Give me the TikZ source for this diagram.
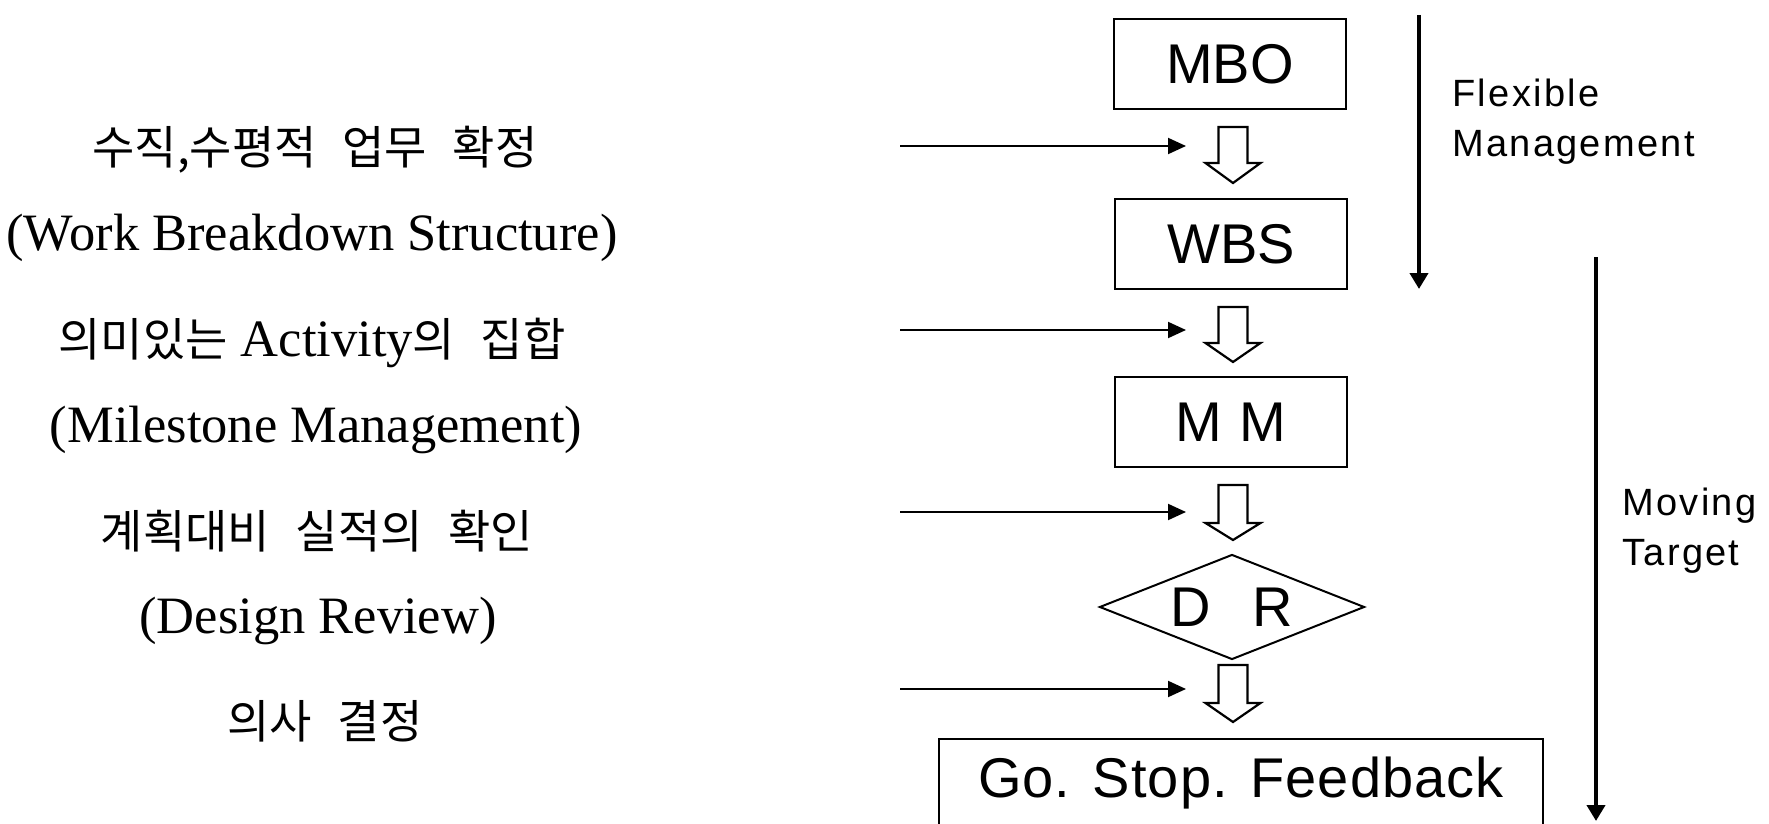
\documentclass[tikz,border=0pt]{standalone}
\usepackage{fontspec}
\setmainfont{Liberation Serif}
\newfontfamily\kr{Noto Sans CJK KR}[WordSpace=2.5]
\newfontfamily\boxfont{Liberation Sans}
\newfontfamily\gofont{Liberation Sans}[LetterSpace=2]
\newfontfamily\notefont{Liberation Sans}[LetterSpace=6]
\usetikzlibrary{arrows.meta,shapes.geometric}

% Korean text at the size of the description lines
\newcommand\krs{\kr\fontsize{23}{26}\selectfont}

% downward hollow block arrow: centre x, top, head base, tip
\newcommand\hollowdown[4]{%
  \draw[hollow] (#1-14.5,#2) -- (#1+14.5,#2) -- (#1+14.5,#3) -- (#1+27.5,#3)
    -- (#1,#4) -- (#1-27.5,#3) -- (#1-14.5,#3) -- cycle;}

\begin{document}
\begin{tikzpicture}[x=0.5pt,y=-0.5pt,
  box/.style={draw, line width=1.2pt, minimum width=116pt, minimum height=45pt,
    inner sep=0pt, font=\boxfont\fontsize{28}{30}\selectfont},
  decision/.style={draw, diamond, aspect=2.52, line width=1pt, minimum width=132.5pt,
    minimum height=52.5pt, inner sep=0pt, font=\boxfont\fontsize{28}{30}\selectfont},
  gobox/.style={draw, line width=1.2pt, minimum width=302pt, minimum height=44pt,
    inner sep=0pt, font=\gofont\fontsize{28}{30}\selectfont},
  krline/.style={inner sep=0pt, anchor=center, font=\krs},
  mixline/.style={inner sep=0pt, anchor=center, font=\fontsize{26.25}{28}\selectfont},
  enline/.style={inner sep=0pt, anchor=base, font=\fontsize{26.25}{28}\selectfont},
  note/.style={inner sep=0pt, anchor=base west, font=\notefont\fontsize{19}{21}\selectfont},
  feed/.style={draw, line width=1pt, -{Triangle[length=9pt,width=8pt]}},
  span/.style={draw, line width=2pt, -{Triangle[length=8pt,width=9pt]}},
  hollow/.style={draw, line width=1.1pt, fill=white, line join=miter}]

\useasboundingbox (0,0) rectangle (1769,824);

% left column: descriptions of each stage
\node[krline] (t1) at (315,150) {수직,수평적 업무 확정};
\node[enline] (t2) at (312,250) {(Work Breakdown Structure)};
\node[mixline] (t3) at (312,343) {{\krs 의미있는} Activity{\krs 의 집합}};
\node[enline] (t4) at (316,442) {(Milestone Management)};
\node[krline] (t5) at (317,531) {계획대비 실적의 확인};
\node[enline] (t6) at (318,633) {(Design Review)};
\node[krline] (t7) at (325,721) {의사 결정};

% flow of stages
\node[box] (mbo) at (1230,64) {MBO};
\node[box] (wbs) at (1231,244) {WBS};
\node[box] (mm) at (1231,422) {M\hspace{9pt}M};
\node[decision] (dr) at (1232,607) {D\hspace{21pt}R};
\node[gobox] (go) at (1241,783) {Go. Stop. Feedback};

\hollowdown{1233}{127}{163}{183}
\hollowdown{1233}{307}{343}{362}
\hollowdown{1233}{485}{523}{540}
\hollowdown{1233}{665}{703}{722}

% feeding arrows from the descriptions
\foreach \i/\y in {1/146,2/330,3/512,4/689}{
  \coordinate (s\i) at (900,\y);
  \coordinate (e\i) at (1186,\y);
  \draw[feed] (s\i) -- (e\i);
}

% span arrows on the right
\coordinate (f0) at (1419,15);
\coordinate (f1) at (1419,289);
\draw[span] (f0) -- (f1);
\coordinate (m0) at (1596,257);
\coordinate (m1) at (1596,821);
\draw[span] (m0) -- (m1);

\node[note] (flex) at (1452,107) {Flexible};
\node[note] (mgmt) at (1452,157) {Management};
\node[note] (mov) at (1622,515) {Moving};
\node[note] (tgt) at (1622,565) {Target};
\end{tikzpicture}
\end{document}
